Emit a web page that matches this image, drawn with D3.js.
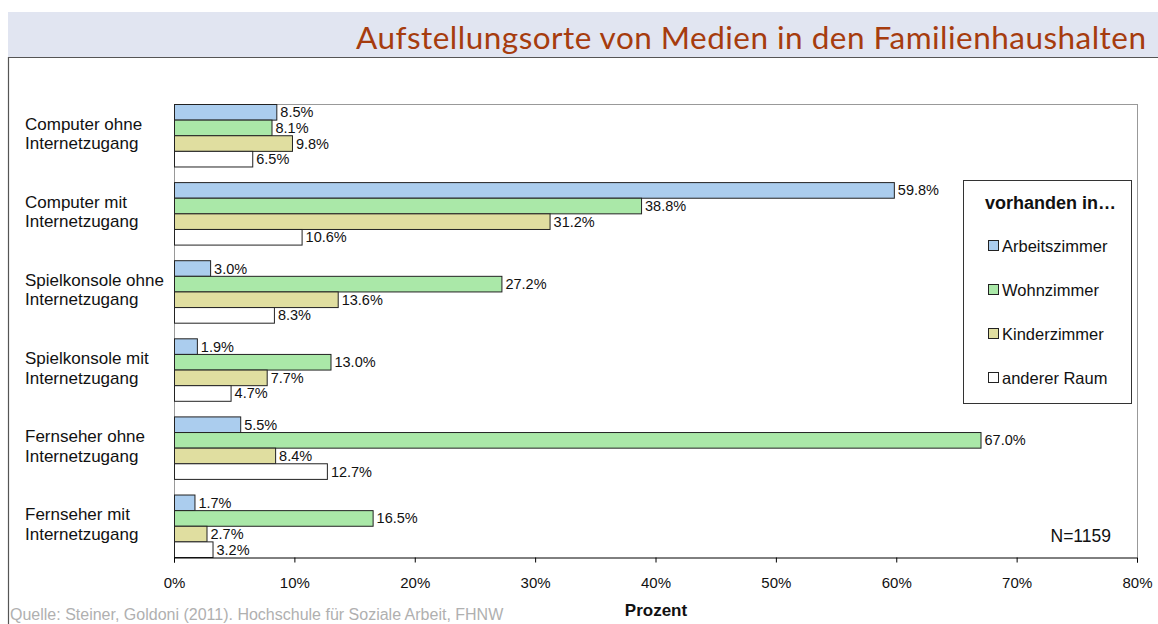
<!DOCTYPE html>
<html><head><meta charset="utf-8">
<script src="https://cdn.jsdelivr.net/npm/d3@7"></script>
<style>body{margin:0;background:#fff}svg{display:block}</style>
</head><body>
<svg id="c" width="1158" height="624"></svg>
<script>
const categories = [
  ["Computer ohne","Internetzugang"],
  ["Computer mit","Internetzugang"],
  ["Spielkonsole ohne","Internetzugang"],
  ["Spielkonsole mit","Internetzugang"],
  ["Fernseher ohne","Internetzugang"],
  ["Fernseher mit","Internetzugang"]
];
const seriesNames = ["Arbeitszimmer","Wohnzimmer","Kinderzimmer","anderer Raum"];
const arbeitszimmer = [8.5, 59.8, 3.0, 1.9, 5.5, 1.7];
const wohnzimmer    = [8.1, 38.8, 27.2, 13.0, 67.0, 16.5];
const kinderzimmer  = [9.8, 31.2, 13.6, 7.7, 8.4, 2.7];
const andererRaum   = [6.5, 10.6, 8.3, 4.7, 12.7, 3.2];
const xTicks = [0,10,20,30,40,50,60,70,80];
const colors = ["#abcdee","#aae8a8","#e0dea0","#ffffff"];
const seriesValues = [arbeitszimmer, wohnzimmer, kinderzimmer, andererRaum];

(function(){
const svg = d3.select("#c");
const F = "'Liberation Sans', Arial, sans-serif";

// title band
svg.append("rect").attr("x",8).attr("y",12).attr("width",1150).attr("height",45).attr("fill","#e1e5f1");
svg.append("text").attr("x",1146).attr("y",49).attr("text-anchor","end")
  .attr("font-family","Lato, 'Open Sans', sans-serif").attr("font-size",31.5).attr("fill","#a63c0e")
  .attr("textLength",790).attr("lengthAdjust","spacing")
  .text("Aufstellungsorte von Medien in den Familienhaushalten");
svg.append("line").attr("x1",8).attr("x2",1158).attr("y1",57.5).attr("y2",57.5).attr("stroke","#555").attr("stroke-width",1.2);
svg.append("line").attr("x1",8.5).attr("x2",8.5).attr("y1",57).attr("y2",624).attr("stroke","#555").attr("stroke-width",1.2);

const pL=174, pR=1137, pT=104, pB=557;
const x = d3.scaleLinear().domain([0,80]).range([pL,pR]);
const y0 = d3.scaleBand().domain(d3.range(categories.length)).range([pT,pB]).paddingInner(0.2).paddingOuter(0);
const y1 = d3.scaleBand().domain(d3.range(seriesNames.length)).range([0,y0.bandwidth()]);

// plot border
svg.append("line").attr("x1",pL).attr("x2",pR).attr("y1",pT+0.5).attr("y2",pT+0.5).attr("stroke","#999");
svg.append("line").attr("x1",pR+0.5).attr("x2",pR+0.5).attr("y1",pT).attr("y2",pB).attr("stroke","#999");
svg.append("line").attr("x1",pL+0.5).attr("x2",pL+0.5).attr("y1",pT).attr("y2",pB).attr("stroke","#999");

// bars
const g = svg.append("g");
categories.forEach((cat,i)=>{
  seriesValues.forEach((vals,s)=>{
    const v = vals[i];
    const yy = y0(i)+y1(s);
    g.append("rect").attr("x",x(0)+0.5).attr("y",yy+0.5)
      .attr("width",x(v)-x(0)).attr("height",y1.bandwidth())
      .attr("fill",colors[s]).attr("stroke","#222").attr("stroke-width",1);
    g.append("text").attr("x",x(v)+4).attr("y",yy+y1.bandwidth()/2+5.5)
      .attr("font-family",F).attr("font-size",14.5).attr("fill","#111")
      .text(v.toFixed(1)+"%");
  });
  const cy = y0(i)+y0.bandwidth()/2;
  cat.forEach((line,k)=>{
    svg.append("text").attr("x",25).attr("y",cy-5.5+k*19.5)
      .attr("font-family",F).attr("font-size",17).attr("fill","#111").text(line);
  });
});

// x axis
const ax = svg.append("g").attr("transform",`translate(0,${pB+0.5})`)
  .call(d3.axisBottom(x).tickValues(xTicks).tickSize(5).tickPadding(15).tickFormat(d=>d+"%"));
ax.select(".domain").attr("stroke","#000");
ax.selectAll(".tick line").attr("stroke","#000");
ax.selectAll("text").attr("font-family",F).attr("font-size",15).attr("fill","#111");

svg.append("text").attr("x",656).attr("y",616).attr("text-anchor","middle")
  .attr("font-family",F).attr("font-size",17).attr("font-weight","bold").attr("fill","#111").text("Prozent");
svg.append("text").attr("x",10).attr("y",619.5)
  .attr("font-family",F).attr("font-size",16).attr("fill","#b0b0b0")
  .text("Quelle: Steiner, Goldoni (2011). Hochschule für Soziale Arbeit, FHNW");
svg.append("text").attr("x",1111).attr("y",542).attr("text-anchor","end")
  .attr("font-family",F).attr("font-size",17.5).attr("fill","#111").text("N=1159");

// legend
svg.append("rect").attr("x",963.5).attr("y",180.5).attr("width",168).attr("height",223)
  .attr("fill","#fff").attr("stroke","#333");
svg.append("text").attr("x",985).attr("y",209).attr("font-family",F).attr("font-size",18)
  .attr("font-weight","bold").attr("fill","#111").text("vorhanden in…");
const legY = d3.scalePoint().domain(seriesNames).range([246,378]);
seriesNames.forEach((n,s)=>{
  svg.append("rect").attr("x",988.5).attr("y",legY(n)-5.5).attr("width",10).attr("height",10)
    .attr("fill",colors[s]).attr("stroke","#222");
  svg.append("text").attr("x",1002).attr("y",legY(n)+6).attr("font-family",F).attr("font-size",16.5)
    .attr("fill","#111").text(n);
});
})();
</script>
</body></html>
